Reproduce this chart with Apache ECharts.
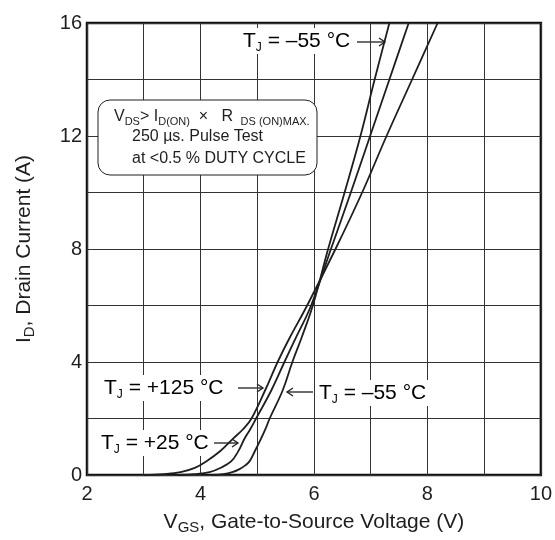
<!DOCTYPE html>
<html>
<head>
<meta charset="utf-8">
<script src="https://cdn.jsdelivr.net/npm/echarts@6/dist/echarts.min.js"></script>
<style>
  html, body { margin: 0; padding: 0; background: #fff; }
  #chart { width: 555px; height: 540px; }
</style>
</head>
<body>
<div id="chart"></div>
<script>
// 轴刻度
const xTicks = [2, 4, 6, 8, 10]
const yTicks = [0, 4, 8, 12, 16]

// TJ = +125 °C
const vgsHot = [3.0, 3.35, 3.65, 3.9, 4.1, 4.35, 4.58, 4.75, 4.9, 5.14, 5.36, 5.57, 5.88, 6.38, 6.85, 7.28, 7.73, 8.18]
const idHot = [0, 0.03, 0.1, 0.25, 0.48, 0.85, 1.3, 1.62, 2, 3, 4, 4.85, 6, 8, 10, 12, 14, 16]

// TJ = +25 °C
const vgsRoom = [3.6, 3.9, 4.16, 4.35, 4.54, 4.66, 4.78, 4.88, 4.98, 5.25, 5.48, 5.68, 5.95, 6.3, 6.65, 6.99, 7.33, 7.67]
const idRoom = [0, 0.03, 0.1, 0.25, 0.48, 0.82, 1.3, 1.63, 2, 3, 4, 4.85, 6, 8, 10, 12, 14, 16]

// TJ = -55 °C
const vgsCold = [4.2, 4.4, 4.56, 4.68, 4.79, 4.87, 4.96, 5.07, 5.15, 5.22, 5.45, 5.62, 5.78, 5.98, 6.25, 6.54, 6.82, 7.07, 7.33]
const idCold = [0, 0.03, 0.1, 0.2, 0.34, 0.5, 0.85, 1.3, 1.65, 2, 3, 4, 4.85, 6, 8, 10, 12, 14, 16]

const FONT = "'Liberation Sans', Arial, sans-serif"
const INK = '#1e1e1e'

const pairs = (xs, ys) => xs.map((x, i) => [x, ys[i]])

const curve = (name, xs, ys) => ({
  name,
  type: 'line',
  data: pairs(xs, ys),
  smooth: 0.4,
  showSymbol: false,
  lineStyle: { color: INK, width: 1.8 },
  z: 5
})

// 下标样式
const subRich = (size, lh) => ({
  m: { fontSize: 21, fontFamily: FONT, color: INK, lineHeight: 26 },
  s: { fontSize: size, fontFamily: FONT, color: INK, lineHeight: lh, verticalAlign: 'bottom' }
})

const tjLabel = (x, y, temp) => ({
  type: 'text',
  x, y,
  z: 100,
  style: {
    text: '{m|T}{s|J}{m| = ' + temp + '}',
    rich: subRich(12, 4),
    verticalAlign: 'middle',
    backgroundColor: '#fff',
    padding: [0, 2, 0, 2]
  }
})

// 箭头
const arrow = (x1, x2, y) => ({
  type: 'group',
  z: 100,
  children: [
    { type: 'line', shape: { x1, y1: y, x2, y2: y }, style: { stroke: INK, lineWidth: 1.3 } },
    {
      type: 'polyline',
      shape: { points: [[x2 - 6 * Math.sign(x2 - x1), y - 4], [x2, y], [x2 - 6 * Math.sign(x2 - x1), y + 4]] },
      style: { stroke: INK, lineWidth: 1.3, fill: null }
    }
  ]
})

const boxLine = (x, y, text, rich) => ({
  type: 'text',
  x, y,
  z: 101,
  style: { text, rich, verticalAlign: 'middle', font: '16px ' + FONT, fill: INK }
})

const boxRich = {
  m: { fontSize: 16, fontFamily: FONT, color: INK, lineHeight: 20 },
  s: { fontSize: 11, fontFamily: FONT, color: INK, lineHeight: 6, verticalAlign: 'bottom' }
}

const chart = echarts.init(document.getElementById('chart'))

const option = {
  animation: false,
  backgroundColor: '#fff',
  grid: {
    left: 87,
    right: 12,
    top: 23,
    bottom: 63,
    show: true,
    borderColor: '#111',
    borderWidth: 2.5,
    backgroundColor: 'transparent'
  },
  xAxis: {
    type: 'value',
    min: 2,
    max: 10,
    interval: 1,
    axisLine: { show: false },
    axisTick: { show: false },
    splitLine: { show: true, lineStyle: { color: '#333', width: 1 } },
    axisLabel: {
      fontSize: 20,
      fontFamily: FONT,
      color: INK,
      margin: 9,
      formatter: v => (xTicks.includes(v) ? String(v) : '')
    },
    name: '{m|V}{s|GS}{m|, Gate-to-Source Voltage (V)}',
    nameLocation: 'middle',
    nameGap: 34,
    nameTextStyle: {
      rich: {
        m: { fontSize: 21, fontFamily: FONT, color: INK, lineHeight: 26 },
        s: { fontSize: 15, fontFamily: FONT, color: INK, lineHeight: 8, verticalAlign: 'bottom' }
      }
    }
  },
  yAxis: {
    type: 'value',
    min: 0,
    max: 16,
    interval: 2,
    axisLine: { show: false },
    axisTick: { show: false },
    splitLine: { show: true, lineStyle: { color: '#333', width: 1 } },
    axisLabel: {
      fontSize: 20,
      fontFamily: FONT,
      color: INK,
      margin: 5,
      formatter: v => (yTicks.includes(v) ? String(v) : '')
    },
    name: '{m|I}{s|D}{m|, Drain Current (A)}',
    nameLocation: 'middle',
    nameGap: 50,
    nameTextStyle: {
      rich: {
        m: { fontSize: 21, fontFamily: FONT, color: INK, lineHeight: 26 },
        s: { fontSize: 15, fontFamily: FONT, color: INK, lineHeight: 8, verticalAlign: 'bottom' }
      }
    }
  },
  series: [
    curve('TJ = +125 °C', vgsHot, idHot),
    curve('TJ = +25 °C', vgsRoom, idRoom),
    curve('TJ = -55 °C', vgsCold, idCold)
  ],
  graphic: [
    // 测试条件框
    {
      type: 'rect',
      z: 99,
      shape: { x: 98, y: 100, width: 219, height: 75, r: 12 },
      style: { fill: '#fff', stroke: INK, lineWidth: 1 }
    },
    boxLine(114, 117, '{m|V}{s|DS}{m|> I}{s|D(ON)}{m|  ×   R }{s| DS (ON)MAX.}', boxRich),
    boxLine(132, 137, '{m|250 µs. Pulse Test}', boxRich),
    boxLine(132, 159, '{m|at <0.5 % DUTY CYCLE}', boxRich),

    tjLabel(241, 41, '–55 °C'),
    arrow(357, 385, 42),
    tjLabel(102, 388, '+125 °C'),
    arrow(238, 263, 388),
    tjLabel(99, 443, '+25 °C'),
    arrow(214, 238, 443),
    arrow(313, 287, 392),
    tjLabel(317, 393, '–55 °C')
  ]
}

chart.setOption(option)
</script>
</body>
</html>
